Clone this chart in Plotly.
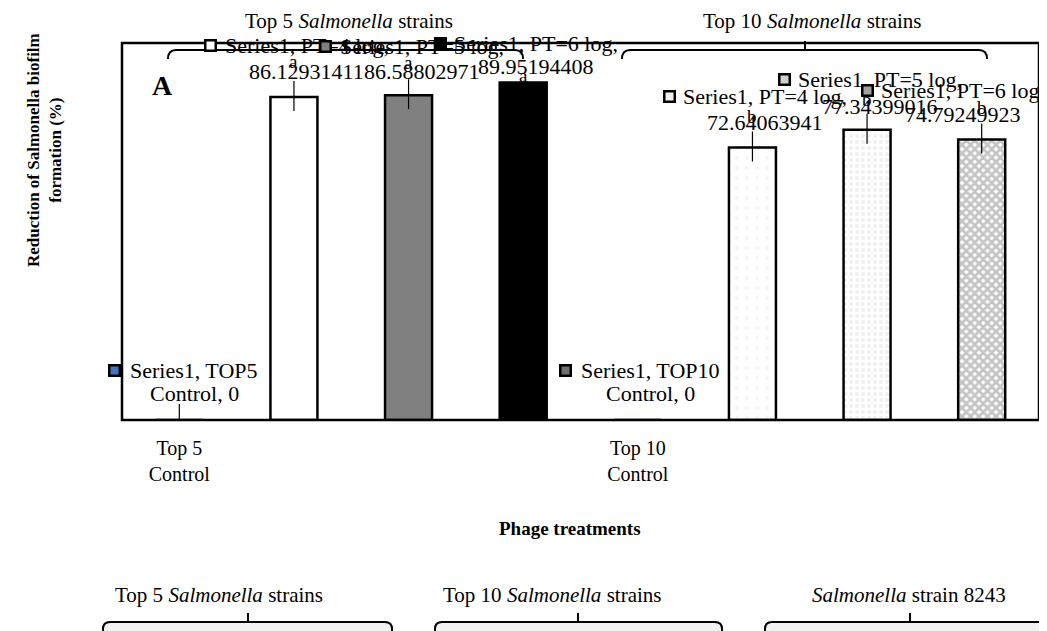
import plotly.graph_objects as go

# ---------------- data ----------------
series_name = "Series1"
categories = ["TOP5 Control", "PT=4 log", "PT=5 log", "PT=6 log",
              "TOP10 Control", "PT=4 log", "PT=5 log", "PT=6 log"]
values = [0, 86.12931411, 86.58802971, 89.95194408,
          0, 72.64063941, 77.34399016, 74.79249923]
sig_letters = ["", "a", "a", "a", "", "b", "b", "b"]
tick_labels = ["Top 5<br>Control", "", "", "", "Top 10<br>Control", "", "", ""]
top_group_titles = ["Top 5 <i>Salmonella</i> strains", "Top 10 <i>Salmonella</i> strains"]
bottom_group_titles = ["Top 5 <i>Salmonella</i> strains", "Top 10 <i>Salmonella</i> strains",
                       "<i>Salmonella</i> strain 8243"]
y_title = "Reduction of Salmonella biofilm<br>formation (%)"
x_title = "Phage treatments"
panel_label = "A"

# ---------------- styles ----------------
W, H = 1047, 631
OFF = 8                                   # page body margin of the html page
L, R, T, B = 122, 1039, 43, 420          # plot area in screen pixels
FONT = "Liberation Serif"

bar_fill = ["#4472C4", "white", "#808080", "black", "#808080", "#f7f7f7", "#f0f0f0", "#c4c4c4"]
pat_shape = ["", "", "", "", "", ".", ".", "x"]
pat_size = [8, 8, 8, 8, 8, 10, 6, 6]
pat_solid = [0.2, 0.2, 0.2, 0.2, 0.2, 0.16, 0.35, 0.7]
pat_fg = ["#555555"] * 5 + ["#111111", "#222222", "#333333"]
key_fill = ["#4472C4", "white", "#808080", "black", "#6f6f6f", "#f2f2f2", "#cfcfcf", "#a0a0a0"]

# label offsets relative to bar centre / bar top (pixels, +up)
lab_dx = [15, 13, 13, 13, 13, 13, 13, -19]
line1_dy = [50, 51, 49, 39, 50, 51, 50, 49]
line2_dy = [27, 25, 24, 16, 27, 25, 23, 25]
key_dx = [-65, -83, -83, -83, -72, -83, -83, -114]
let_dy = [0, 35, 33, 7, 0, 31, 30, 32]
lead = [True, True, True, False, False, True, True, True]


def px(x):
    return (x - L) / (R - L)


def py(y):
    return (B - y) / (B - T)


def fmt(v):
    return "0" if v == 0 else f"{v:.8f}"


xs = list(range(len(categories)))

fig = go.Figure()
fig.add_trace(go.Bar(
    x=xs, y=values, width=0.41,
    marker=dict(color=bar_fill,
                line=dict(color="black", width=2.5),
                pattern=dict(shape=pat_shape, size=pat_size, solidity=pat_solid,
                             fgcolor=pat_fg, fillmode="replace")),
    hoverinfo="skip", showlegend=False,
))

annotations = []
shapes = []
lab_font = dict(family=FONT, size=22, color="black")

# data labels
for i, (c, v) in enumerate(zip(categories, values)):
    if "Control" in c:
        a, b = c.split(" ")
        l1, l2 = f"{series_name}, {a}", f"{b}, {fmt(v)}"
    else:
        l1, l2 = f"{series_name}, {c},", fmt(v)
    for txt, dy in ((l1, line1_dy[i]), (l2, line2_dy[i])):
        annotations.append(dict(x=i, y=v, xref="x", yref="y", text=txt, showarrow=False,
                                xshift=lab_dx[i], yshift=dy, xanchor="center", yanchor="middle",
                                align="center", font=lab_font))
    # legend key square of the data label (annotation so it is not clipped)
    annotations.append(dict(x=i, y=v, xref="x", yref="y", text=" ", showarrow=False,
                            xshift=key_dx[i], yshift=line1_dy[i], xanchor="center", yanchor="middle",
                            width=8, height=8, borderpad=0, borderwidth=2.5,
                            bordercolor="black", bgcolor=key_fill[i],
                            font=dict(family=FONT, size=4, color=key_fill[i])))
    if sig_letters[i]:
        annotations.append(dict(x=i, y=v, xref="x", yref="y", text=sig_letters[i], showarrow=False,
                                yshift=let_dy[i], xanchor="center", yanchor="middle",
                                font=dict(family=FONT, size=19, color="black")))
    if lead[i]:
        shapes.append(dict(type="line", xref="x", yref="y", ysizemode="pixel", yanchor=v,
                           x0=i, x1=i, y0=-14, y1=16, line=dict(color="black", width=1.2),
                           layer="above"))

# frame
shapes.append(dict(type="rect", xref="paper", yref="paper", x0=0, x1=1, y0=0, y1=1,
                   line=dict(color="black", width=2.5), layer="above"))


def brace_path(x0, x1, xt, ytop, yline, yend):
    return (f"M {px(x0)},{py(yend)} Q {px(x0)},{py(yline)} {px(x0 + 8)},{py(yline)} "
            f"L {px(xt)},{py(yline)} L {px(xt)},{py(ytop)} M {px(xt)},{py(yline)} "
            f"L {px(x1 - 8)},{py(yline)} Q {px(x1)},{py(yline)} {px(x1)},{py(yend)}")


# top braces
for (x0, x1, xt) in [(168, 523, 345), (622, 987, 805)]:
    shapes.append(dict(type="path", xref="paper", yref="paper",
                       path=brace_path(x0, x1, xt, 41, 50, 59),
                       line=dict(color="black", width=2), layer="above"))

# bottom boxes
for (x0, x1, xt) in [(103, 392, 248), (435, 722, 578), (765, 1060, 910)]:
    p = (f"M {px(x0)},{py(640)} L {px(x0)},{py(629)} Q {px(x0)},{py(622)} {px(x0 + 7)},{py(622)} "
         f"L {px(xt)},{py(622)} L {px(xt)},{py(613)} L {px(xt)},{py(622)} "
         f"L {px(x1 - 7)},{py(622)} Q {px(x1)},{py(622)} {px(x1)},{py(629)} L {px(x1)},{py(640)} Z")
    shapes.append(dict(type="path", xref="paper", yref="paper", path=p,
                       fillcolor="#f2f2f2", line=dict(color="black", width=2)))

# titles
for t, xc in zip(top_group_titles, [349, 812]):
    annotations.append(dict(x=px(xc), y=py(21), xref="paper", yref="paper", text=t,
                            showarrow=False, xanchor="center", yanchor="middle",
                            font=dict(family=FONT, size=21, color="black")))
for t, xc in zip(bottom_group_titles, [219, 552, 909]):
    annotations.append(dict(x=px(xc), y=py(595), xref="paper", yref="paper", text=t,
                            showarrow=False, xanchor="center", yanchor="middle",
                            font=dict(family=FONT, size=21, color="black")))

annotations.append(dict(x=px(162), y=py(86), xref="paper", yref="paper", text=f"<b>{panel_label}</b>",
                        showarrow=False, xanchor="center", yanchor="middle",
                        font=dict(family=FONT, size=28, color="black")))
annotations.append(dict(x=px(570), y=py(528), xref="paper", yref="paper", text=f"<b>{x_title}</b>",
                        showarrow=False, xanchor="center", yanchor="middle",
                        font=dict(family=FONT, size=19, color="black")))
annotations.append(dict(x=px(44), y=py(150), xref="paper", yref="paper", text=f"<b>{y_title}</b>",
                        showarrow=False, xanchor="center", yanchor="middle", textangle=-90,
                        font=dict(family=FONT, size=17, color="black")))

fig.update_layout(
    width=W, height=H,
    margin=dict(l=L - OFF, r=W - (R - OFF), t=T - OFF, b=H - (B - OFF), pad=0),
    paper_bgcolor="white", plot_bgcolor="white",
    xaxis=dict(range=[-0.5, 7.5], tickvals=xs, ticktext=tick_labels, showgrid=False,
               zeroline=False, showline=False, ticks="", ticklabelstandoff=14,
               tickfont=dict(family=FONT, size=20, color="black")),
    yaxis=dict(range=[0, 100.5], showgrid=False, zeroline=False, showticklabels=False,
               ticks="", showline=False),
    annotations=annotations, shapes=shapes,
)

fig.write_html("out.html")
